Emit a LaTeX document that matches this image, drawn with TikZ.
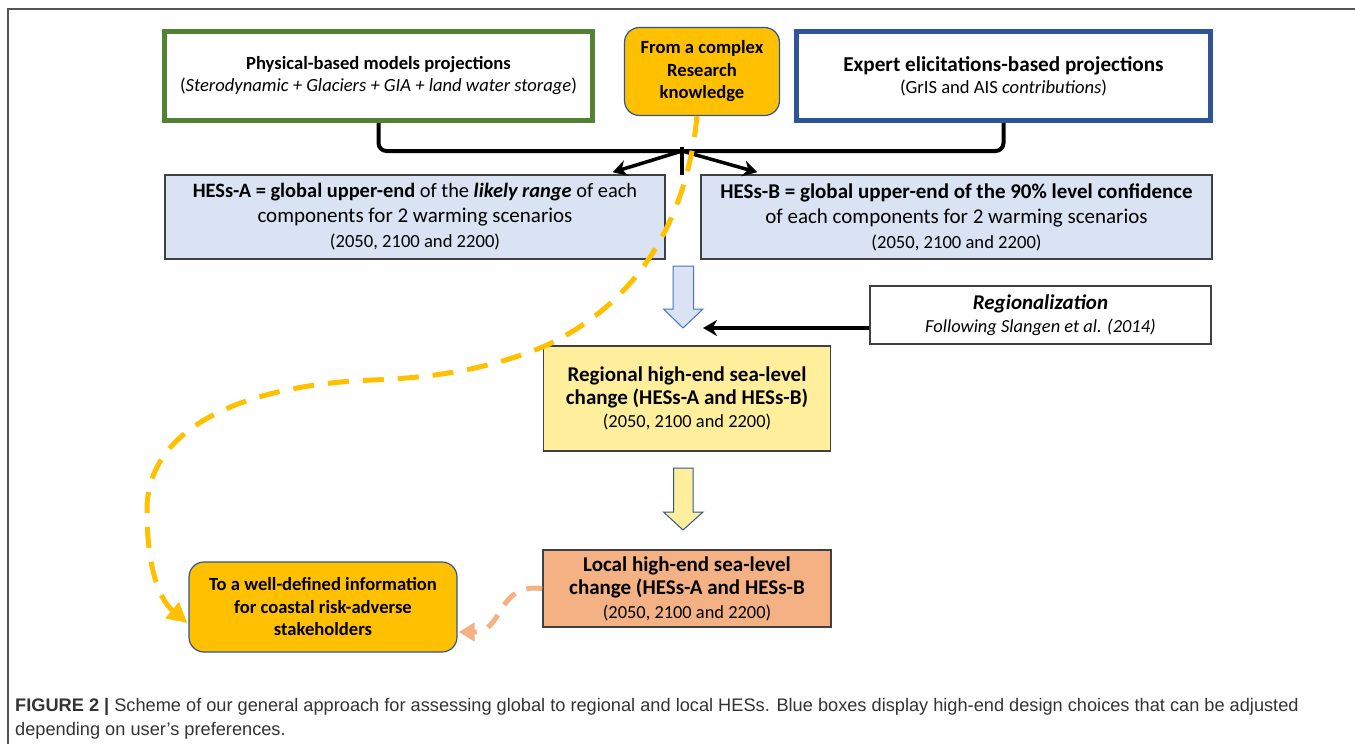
\documentclass[tikz,border=0pt]{standalone}
\usepackage{fontspec}
\setmainfont{Carlito}
\newfontfamily\capfont{Liberation Sans}
\usetikzlibrary{arrows.meta,calc}
\definecolor{greenborder}{HTML}{548235}
\definecolor{blueborder}{HTML}{2F5597}
\definecolor{gold}{HTML}{FFC000}
\definecolor{lightblue}{HTML}{DAE3F3}
\definecolor{boxgray}{HTML}{404040}
\definecolor{paleyellow}{HTML}{FFEF9C}
\definecolor{peach}{HTML}{F4B183}
\definecolor{arrowblue}{HTML}{4472C4}
\definecolor{framegray}{HTML}{555555}
\definecolor{captext}{HTML}{333333}
\begin{document}
\begin{tikzpicture}[x=1pt,y=-1pt,
  basebox/.style={draw, align=center, inner sep=0pt},
  thickbox/.style={basebox, line width=5pt, fill=white},
  bluebox/.style={basebox, fill=lightblue, draw=boxgray, line width=1.5pt,
     font=\fontsize{21}{25}\selectfont},
  goldbox/.style={basebox, fill=gold, draw=blueborder, line width=1.2pt,
     rounded corners=15pt, font=\fontsize{18.6}{22.5}\selectfont\bfseries},
  plainbox/.style={basebox, draw=boxgray, line width=1.5pt},
  blackarrow/.style={line width=3.5pt, -{Stealth[length=14pt,width=16pt]}},
  bracestyle/.style={line width=4pt, rounded corners=8pt},
  golddash/.style={gold, line width=5pt, dash pattern=on 21pt off 14pt,
     -{Triangle[length=20pt,width=20pt]}},
  peachdash/.style={peach, line width=5pt, dash pattern=on 16pt off 12pt,
     -{Triangle[length=16pt,width=18pt]}},
  hollowarrow/.style={line width=1pt, line join=miter},
  captionstyle/.style={anchor=base west, inner sep=0pt, text=captext,
     font=\capfont\fontsize{18.2}{24}\selectfont}
]
\useasboundingbox (0,0) rectangle (1355,744);
\fill[white] (0,0) rectangle (1355,744);
\draw[framegray, line width=1.5pt] (8,744) -- (8,9) -- (1355,9);

% top row
\node[thickbox, draw=greenborder, minimum width=428pt, minimum height=89pt,
  font=\fontsize{18.6}{22}\selectfont] (green) at (378.5,76)
  {\textbf{Physical-based models projections}\\
   (\textit{Sterodynamic + Glaciers + GIA + land water storage})};
\node[thickbox, draw=blueborder, minimum width=414pt, minimum height=89pt,
  font=\fontsize{21.2}{22}\selectfont] (expert) at (1003.5,76)
  {\textbf{Expert elicitations-based projections}\\
   {\fontsize{18.6}{22}\selectfont (GrIS and AIS \textit{contributions})}};
\node[goldbox, minimum width=155pt, minimum height=88pt] (complex) at (702,71.5)
  {From a complex\\ Research\\ knowledge};

% HESs boxes
\node[bluebox, minimum width=500pt, minimum height=84pt] (hesa) at (415,217)
  {{\fontsize{20.4}{25}\selectfont\textbf{HESs-A = global upper-end} of the \textbf{\textit{likely range}} of each}\\
   components for 2 warming scenarios\\
   {\fontsize{18.6}{25}\selectfont (2050, 2100 and 2200)}};
\node[bluebox, minimum width=511pt, minimum height=84pt] (hesb) at (956.5,217)
  {\textbf{HESs-B = global upper-end of the 90\% level confidence}\\
   of each components for 2 warming scenarios\\
   {\fontsize{18.6}{25}\selectfont (2050, 2100 and 2200)}};

% brace connector
\coordinate (hub) at (682,151);
\draw[bracestyle] (green.south) |- (hub);
\draw[bracestyle] (expert.south) |- (hub);
\draw[line width=4pt] (682,147) -- (682,175);
\draw[blackarrow] (hub) -- ($(hesa.north east)+(-53,-2)$);
\draw[blackarrow] (hub) -- ($(hesb.north west)+(57,-2)$);

% regionalization
\node[plainbox, fill=white, minimum width=341pt, minimum height=58pt,
  font=\fontsize{18.4}{23}\selectfont] (region) at (1040.5,315)
  {{\fontsize{21}{23}\selectfont\textbf{\textit{Regionalization}}}\\
   \textit{Following Slangen et al. (2014)}};
\node[plainbox, fill=paleyellow, minimum width=287pt, minimum height=105pt,
  font=\fontsize{21}{23}\selectfont\bfseries] (regional) at (687,398.5)
  {Regional high-end sea-level\\ change (HESs-A and HESs-B)\\
   {\fontsize{18.4}{23}\selectfont\mdseries (2050, 2100 and 2200)}};
\node[plainbox, fill=peach, minimum width=288pt, minimum height=77pt,
  font=\fontsize{21}{23.5}\selectfont\bfseries] (local) at (687,588.5)
  {Local high-end sea-level\\ change (HESs-A and HESs-B\\
   {\fontsize{18.4}{23}\selectfont\mdseries (2050, 2100 and 2200)}};
\node[goldbox, minimum width=268pt, minimum height=90pt] (info) at (323,607)
  {To a well-defined information\\ for coastal risk-adverse\\ stakeholders};

% hollow arrows
\draw[hollowarrow, fill=lightblue, draw=arrowblue]
  (673,266) -- (693.5,266) -- (693.5,309) -- (703,309) -- (683,328)
  -- (663.5,309) -- (673,309) -- cycle;
\draw[hollowarrow, fill=paleyellow, draw=blueborder]
  (673.5,468) -- (693,468) -- (693,512) -- (703,512) -- (683,530)
  -- (663.5,512) -- (673.5,512) -- cycle;

% regionalization arrow
\coordinate (rtip) at (703,328);
\draw[blackarrow] ($(region.west)+(0,13)$) -- (rtip);

% dashed curves
\draw[golddash] ($(complex.south)+(-5,0)$)
  .. controls (688,210) and (645,300) .. (545,346)
  .. controls (480,373) and (420,378) .. (373,380)
  .. controls (260,384) and (147,420) .. (147,510)
  .. controls (147,570) and (160,600) .. ($(info.west)+(-1,16)$);
\draw[peachdash] (local.west)
  .. controls (495,583) and (505,632) .. ($(info.east)+(1,25)$);

% caption
\node[captionstyle] (cap1) at (15,711)
  {\textbf{FIGURE 2 |} Scheme of our general approach for assessing global to regional and local HESs. Blue boxes display high-end design choices that can be adjusted};
\node[captionstyle] (cap2) at (15,735)
  {depending on user’s preferences.};
\end{tikzpicture}
\end{document}
